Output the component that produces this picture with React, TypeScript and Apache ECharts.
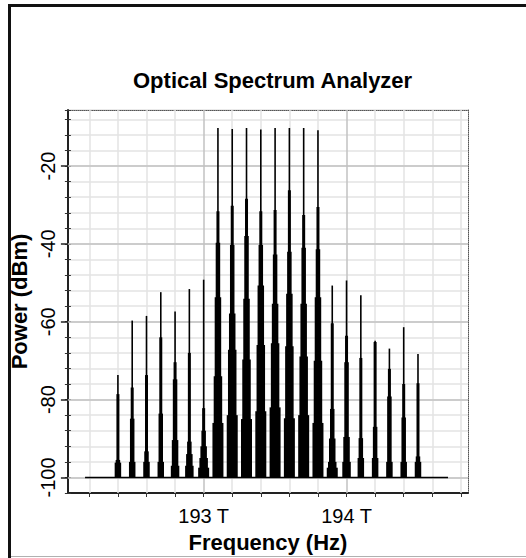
import React, { useEffect, useRef } from "react";
import * as echarts from "echarts";

// Comb line frequencies (THz)
const freqs = [
  192.4, 192.5, 192.6, 192.7, 192.8, 192.9, 193.0, 193.1, 193.2, 193.3, 193.4,
  193.5, 193.6, 193.7, 193.8, 193.9, 194.0, 194.1, 194.2, 194.3, 194.4, 194.5,
];
// Peak power of each line (dBm)
const peakTop = [
  -73.7, -59.7, -58.5, -52.4, -57.4, -51.6, -49.2, -10.2, -10.5, -10.2, -10.6,
  -10.2, -10.2, -10.2, -10.8, -50.7, -49.4, -53.2, -64.9, -66.9, -61.4, -68.3,
];
// Shoulder levels of each line's spectral skirt (dBm), from narrow to wide
const shoulder1 = [
  -78.6, -76.9, -73.7, -64.0, -70.4, -68.0, -82.2, -31.6, -30.2, -28.4, -31.6,
  -31.3, -26.2, -32.6, -30.5, -60.4, -63.6, -69.3, -65.2, -72.1, -76.0, -75.8,
];
const shoulder2 = [
  -95.5, -84.9, -93.3, -83.6, -74.8, -90.8, -88.0, -39.7, -40.3, -38.0, -40.3,
  -42.7, -42.0, -41.0, -41.4, -82.4, -70.4, -89.9, -87.0, -79.2, -84.6, -94.6,
];
const shoulder3 = [
  -96.2, -96.0, -96.0, -96.0, -90.4, -94.0, -92.0, -53.7, -57.9, -54.1, -50.7,
  -55.4, -52.8, -55.4, -53.7, -90.0, -89.6, -95.0, -95.0, -96.0, -96.0, -96.0,
];
const pedestal = [
  -100, -100, -100, -100, -97.0, -97.0, -95.0, -74.0, -67.2, -69.7, -66.0,
  -65.5, -66.3, -68.9, -70.0, -96.0, -96.0, -100, -100, -100, -100, -100,
];
const footing = [
  -100, -100, -100, -100, -100, -100, -97.5, -86.0, -84.0, -85.0, -83.0,
  -82.0, -84.8, -84.0, -86.0, -97.5, -100, -100, -100, -100, -100, -100,
];
// Noise floor
const floorLevel = -100;
const floorSpan = [192.17, 194.71];

// Axes
const xRange = [192.05, 194.85];
const yRange = [-104, -5.6];
const xTickValues = [
  192.2, 192.4, 192.6, 192.8, 193.0, 193.2, 193.4, 193.6, 193.8, 194.0, 194.2,
  194.4, 194.6, 194.8,
];
const xLabelValues = [193, 194];
const yLabelValues = [-100, -80, -60, -40, -20];

const LEVEL_WIDTHS = [1.6, 3, 4.5, 6.5, 8.5, 11];
const FONT = "'Liberation Sans', Arial, sans-serif";

export default function App() {
  const ref = useRef<HTMLDivElement>(null);

  useEffect(() => {
    if (!ref.current) return;
    const chart = echarts.init(ref.current, undefined, {
      renderer: "svg",
      width: 526,
      height: 558,
    });

    const levels = [peakTop, shoulder1, shoulder2, shoulder3, pedestal, footing];
    const spikeData: number[][] = [];
    for (let k = levels.length - 1; k >= 0; k--) {
      freqs.forEach((f, i) => {
        const v = levels[k][i];
        if (v > floorLevel) spikeData.push([f, v, k]);
      });
    }

    const lightGrid = { color: "#e3e3e3", width: 1.5, type: "solid" };
    const darkGrid = { color: "#c2c2c2", width: 1.5, type: "solid" };
    const markData: any[] = [];
    xTickValues.forEach((v) => {
      const major = xLabelValues.some((m) => Math.abs(m - v) < 1e-6);
      markData.push({ xAxis: v, lineStyle: major ? darkGrid : lightGrid });
    });
    yLabelValues.forEach((v) => {
      markData.push({ yAxis: v, lineStyle: darkGrid });
    });

    const option: any = {
      animation: false,
      backgroundColor: "#ffffff",
      title: {
        text: "Optical Spectrum Analyzer",
        left: 128,
        top: 64,
        textStyle: {
          fontFamily: FONT,
          fontWeight: "bold",
          fontSize: 22,
          color: "#000",
        },
      },
      graphic: [
        { type: "rect", shape: { x: 8, y: 4, width: 518, height: 3 }, style: { fill: "#111" } },
        { type: "rect", shape: { x: 8, y: 4, width: 3, height: 554 }, style: { fill: "#111" } },
        { type: "rect", shape: { x: 11, y: 556, width: 515, height: 1 }, style: { fill: "#b0b0b0" } },
      ],
      grid: { left: 67, right: 58, top: 110, bottom: 59, containLabel: false },
      xAxis: [
        {
          type: "value",
          min: xRange[0],
          max: xRange[1],
          position: "bottom",
          name: "Frequency (Hz)",
          nameLocation: "middle",
          nameGap: 38,
          nameTextStyle: { fontFamily: FONT, fontWeight: "bold", fontSize: 22, color: "#000" },
          axisLine: { show: true, onZero: false, lineStyle: { color: "#222", width: 2 } },
          axisTick: { show: true, customValues: xTickValues, length: 4, lineStyle: { color: "#333", width: 1 } },
          axisLabel: {
            customValues: xLabelValues,
            formatter: (v: number) => `${Math.round(v)} T`,
            margin: 13,
            fontFamily: FONT,
            fontSize: 20,
            color: "#000",
          },
          splitLine: { show: false },
        },
        {
          type: "value",
          min: xRange[0],
          max: xRange[1],
          position: "top",
          axisLine: { show: true, onZero: false, lineStyle: { color: "#555", width: 1, type: "dotted" } },
          axisTick: { show: false },
          axisLabel: { show: false },
          splitLine: { show: false },
        },
      ],
      yAxis: [
        {
          type: "value",
          min: yRange[0],
          max: yRange[1],
          interval: 4,
          position: "left",
          name: "Power (dBm)",
          nameLocation: "middle",
          nameGap: 30,
          nameTextStyle: { fontFamily: FONT, fontWeight: "bold", fontSize: 22, color: "#000" },
          axisLine: { show: true, onZero: false, lineStyle: { color: "#222", width: 2 } },
          axisTick: { show: true, length: 3, lineStyle: { color: "#333", width: 1 } },
          axisLabel: {
            customValues: yLabelValues,
            rotate: 90,
            margin: 10,
            fontFamily: FONT,
            fontSize: 20,
            color: "#000",
          },
          splitLine: { show: true, lineStyle: lightGrid },
        },
        {
          type: "value",
          min: yRange[0],
          max: yRange[1],
          interval: 4,
          position: "left",
          axisLine: { show: false },
          axisTick: { show: true, inside: true, length: 3, lineStyle: { color: "#333", width: 1 } },
          axisLabel: { show: false },
          splitLine: { show: false },
        },
        {
          type: "value",
          min: yRange[0],
          max: yRange[1],
          position: "left",
          axisLine: { show: false },
          axisTick: { show: true, customValues: yLabelValues, length: 7, lineStyle: { color: "#222", width: 1.5 } },
          axisLabel: { show: false },
          splitLine: { show: false },
        },
        {
          type: "value",
          min: yRange[0],
          max: yRange[1],
          position: "right",
          axisLine: { show: true, onZero: false, lineStyle: { color: "#555", width: 1, type: "dotted" } },
          axisTick: { show: false },
          axisLabel: { show: false },
          splitLine: { show: false },
        },
      ],
      series: [
        {
          type: "line",
          name: "grid",
          data: [[floorSpan[0], floorLevel]],
          symbol: "none",
          lineStyle: { opacity: 0 },
          z: 1,
          silent: true,
          markLine: {
            silent: true,
            symbol: ["none", "none"],
            label: { show: false },
            z: 1,
            animation: false,
            data: markData,
          },
        },
        {
          type: "custom",
          name: "spectrum",
          z: 3,
          data: spikeData,
          encode: { x: 0, y: 1 },
          renderItem: (_params: any, api: any) => {
            const f = api.value(0);
            const lvl = api.value(1);
            const k = api.value(2);
            const top = api.coord([f, lvl]);
            const bot = api.coord([f, floorLevel]);
            const w = LEVEL_WIDTHS[k];
            return {
              type: "rect",
              shape: { x: top[0] - w / 2, y: top[1], width: w, height: bot[1] - top[1] },
              style: { fill: "#000" },
            };
          },
        },
        {
          type: "line",
          name: "floor",
          data: [
            [floorSpan[0], floorLevel],
            [floorSpan[1], floorLevel],
          ],
          symbol: "none",
          lineStyle: { color: "#000", width: 1.6 },
          z: 4,
          silent: true,
        },
      ],
    };

    chart.setOption(option);
    return () => {
      chart.dispose();
    };
  }, []);

  return (
    <div
      ref={ref}
      style={{ position: "absolute", left: 0, top: 0, width: 526, height: 558, background: "#fff" }}
    />
  );
}
